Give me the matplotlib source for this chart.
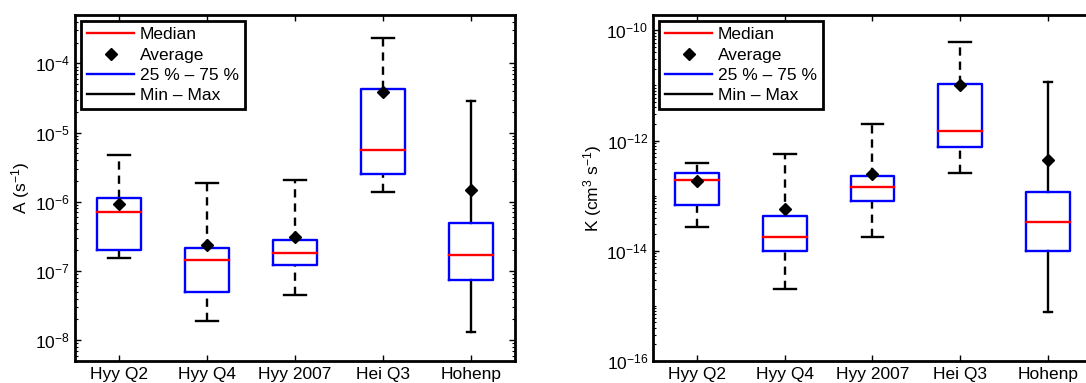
import matplotlib
matplotlib.use('Agg')
import matplotlib.pyplot as plt
from matplotlib.lines import Line2D
from matplotlib.ticker import LogLocator, NullFormatter
import numpy as np

plt.rcParams['font.family'] = ['Liberation Sans', 'DejaVu Sans']
plt.rcParams['mathtext.default'] = 'regular'

groups = ['Hyy Q2', 'Hyy Q4', 'Hyy 2007', 'Hei Q3', 'Hohenp']

# A (s^-1)
A_min = [1.56e-7, 1.9e-8, 4.5e-8, 1.39e-6, 1.33e-8]
A_q1 = [2.03e-7, 4.9e-8, 1.22e-7, 2.5e-6, 7.4e-8]
A_med = [7.0e-7, 1.43e-7, 1.84e-7, 5.6e-6, 1.68e-7]
A_q3 = [1.15e-6, 2.15e-7, 2.8e-7, 4.3e-5, 4.9e-7]
A_max = [4.7e-6, 1.86e-6, 2.03e-6, 2.3e-4, 2.86e-5]
A_avg = [9.2e-7, 2.4e-7, 3.06e-7, 3.9e-5, 1.47e-6]

# K (cm^3 s^-1)
K_min = [2.7e-14, 2.0e-15, 1.8e-14, 2.56e-13, 7.7e-16]
K_q1 = [6.8e-14, 1.0e-14, 7.9e-14, 7.6e-13, 1.01e-14]
K_med = [1.91e-13, 1.75e-14, 1.43e-13, 1.48e-12, 3.36e-14]
K_q3 = [2.63e-13, 4.3e-14, 2.3e-13, 1.05e-11, 1.19e-13]
K_max = [4.0e-13, 5.7e-13, 2.0e-12, 6.1e-11, 1.16e-11]
K_avg = [1.83e-13, 5.85e-14, 2.45e-13, 1.02e-11, 4.46e-13]

# last group drawn with solid whiskers and short caps
solid = [False, False, False, False, True]

LW = 1.7
BOX_W = 0.5
FS = 12.5


def draw_boxes(ax, vmin, q1, med, q3, vmax, avg):
    for i in range(len(groups)):
        x = i + 1
        if solid[i]:
            ls, cw = '-', 0.09
        else:
            ls, cw = (0, (3.5, 2.5)), 0.25
        # whiskers
        ax.plot([x, x], [q3[i], vmax[i]], color='k', lw=LW, ls=ls, zorder=2)
        ax.plot([x, x], [vmin[i], q1[i]], color='k', lw=LW, ls=ls, zorder=2)
        # caps
        ax.plot([x - cw / 2, x + cw / 2], [vmax[i], vmax[i]], color='k', lw=LW, zorder=2)
        ax.plot([x - cw / 2, x + cw / 2], [vmin[i], vmin[i]], color='k', lw=LW, zorder=2)
        # box
        bx = [x - BOX_W / 2, x + BOX_W / 2, x + BOX_W / 2, x - BOX_W / 2, x - BOX_W / 2]
        by = [q1[i], q1[i], q3[i], q3[i], q1[i]]
        ax.plot(bx, by, color='b', lw=LW, zorder=3)
        # median
        ax.plot([x - BOX_W / 2, x + BOX_W / 2], [med[i], med[i]], color='r', lw=LW, zorder=4)
    ax.plot(range(1, len(groups) + 1), avg, 'kD', ms=6, zorder=5)


def style_axes(ax):
    ax.set_yscale('log')
    ax.set_xlim(0.5, 5.5)
    ax.set_xticks(range(1, len(groups) + 1))
    ax.set_xticklabels(groups)
    ax.tick_params(which='both', direction='in', top=True, right=True, labelsize=FS)
    ax.tick_params(which='major', length=4, width=1)
    ax.tick_params(which='minor', length=2, width=0.8)
    ax.tick_params(axis='x', pad=4)
    for s in ax.spines.values():
        s.set_linewidth(2)
    handles = [Line2D([], [], color='r', lw=LW),
               Line2D([], [], color='k', marker='D', ls='none', ms=6),
               Line2D([], [], color='b', lw=LW),
               Line2D([], [], color='k', lw=LW)]
    labels = ['Median', 'Average', '25 % \u2013 75 %', 'Min \u2013 Max']
    leg = ax.legend(handles, labels, loc='upper left', fontsize=FS, fancybox=False,
                    edgecolor='k', framealpha=1, handlelength=2.7, handletextpad=0.35,
                    labelspacing=0.3, borderpad=0.35, borderaxespad=0.35)
    leg.get_frame().set_linewidth(2)


fig = plt.figure(figsize=(10.86, 3.83), dpi=100)
ax1 = fig.add_axes([75 / 1086, 22 / 383, 440 / 1086, 346 / 383])
# right panel runs past the figure edge
ax2 = fig.add_axes([653 / 1086, 22 / 383, 439 / 1086, 346 / 383])

draw_boxes(ax1, A_min, A_q1, A_med, A_q3, A_max, A_avg)
style_axes(ax1)
ax1.set_ylim(5e-9, 5e-4)
ax1.set_yticks([1e-8, 1e-7, 1e-6, 1e-5, 1e-4])
ax1.yaxis.set_minor_locator(LogLocator(base=10, subs=np.arange(2, 10), numticks=20))
ax1.yaxis.set_minor_formatter(NullFormatter())
ax1.set_ylabel('A (s$^{-1}$)', fontsize=FS, labelpad=2)

draw_boxes(ax2, K_min, K_q1, K_med, K_q3, K_max, K_avg)
style_axes(ax2)
ax2.tick_params(which='both', right=False)
ax2.set_ylim(1e-16, 1.9e-10)
ax2.set_yticks([1e-16, 1e-14, 1e-12, 1e-10])
ax2.yaxis.set_minor_locator(LogLocator(base=10, subs=np.arange(1, 10), numticks=20))
ax2.yaxis.set_minor_formatter(NullFormatter())
ax2.set_ylabel('K (cm$^3$ s$^{-1}$)', fontsize=FS, labelpad=2)

fig.savefig('out.png', dpi=100)
